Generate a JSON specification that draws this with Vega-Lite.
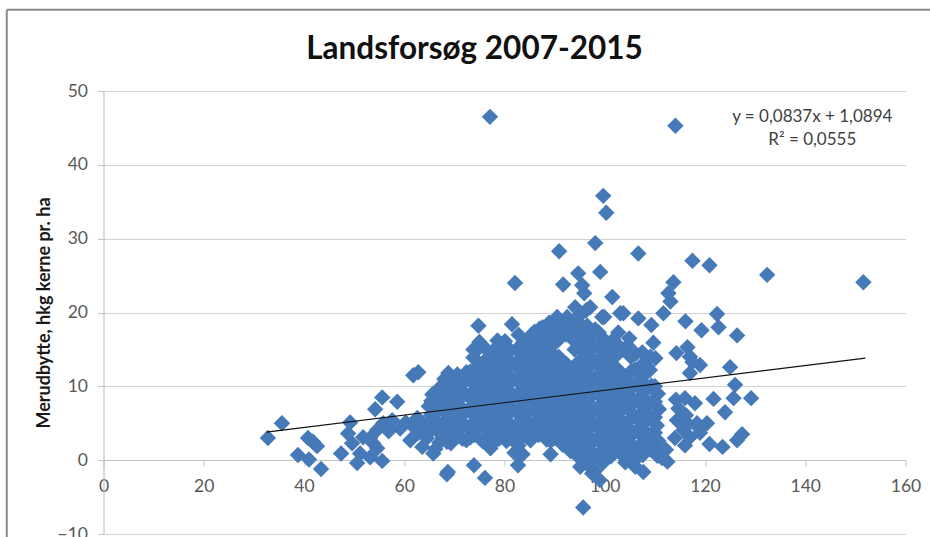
{"$schema":"https://vega.github.io/schema/vega-lite/v6.json","width":802,"height":443,"autosize":{"type":"none"},"padding":{"left":103.5,"top":91,"right":24.5,"bottom":3},"background":"white","config":{"view":{"stroke":null},"font":"Lato"},"title":{"text":"Landsforsøg 2007-2015","font":"Lato","fontSize":31.5,"fontWeight":"bold","color":"#111111","anchor":"middle","dx":-30,"offset":-57},"datasets":{"pts":[
{"x":77.1,"y":46.5},{"x":114.1,"y":45.3},{"x":99.7,"y":35.8},{"x":100.3,"y":33.5},{"x":98.1,"y":29.4},{"x":106.7,"y":28.0},{"x":90.9,"y":28.3},{"x":99.1,"y":25.5},{"x":117.5,"y":27},{"x":120.9,"y":26.4},{"x":132.4,"y":25.1},{"x":151.6,"y":24.1},{"x":94.7,"y":25.3},{"x":91.7,"y":23.8},{"x":82.1,"y":24},{"x":95.5,"y":23.7},{"x":95.9,"y":22.6},{"x":101.5,"y":22.1},{"x":94.1,"y":20.7},{"x":97.1,"y":20.7},{"x":96.3,"y":20.3},{"x":99.5,"y":19.4},{"x":103.1,"y":19.9},{"x":90.5,"y":19.4},{"x":92.5,"y":19.4},{"x":81.5,"y":18.4},{"x":74.8,"y":18.2},
{"x":113.7,"y":24.1},{"x":112.7,"y":22.6},{"x":113.1,"y":21.5},{"x":111.7,"y":19.9},{"x":103.7,"y":19.9},{"x":99.9,"y":19.4},{"x":106.7,"y":19.2},{"x":109.3,"y":18.3},{"x":116.1,"y":18.8},{"x":119.3,"y":17.6},{"x":122.4,"y":19.8},{"x":122.7,"y":18},{"x":126.4,"y":16.9},{"x":109.7,"y":15.9},{"x":114.3,"y":14.5},{"x":116.5,"y":15.3},{"x":117,"y":14},{"x":119,"y":12.9},{"x":117,"y":11.8},{"x":125,"y":12.6},{"x":102.7,"y":17.3},{"x":104.9,"y":16.5},{"x":101.7,"y":16.3},{"x":107.5,"y":14.6},{"x":110.1,"y":13.8},{"x":107.7,"y":13.1},{"x":109,"y":12.2},{"x":117.5,"y":13.3},
{"x":126,"y":10.2},{"x":121.7,"y":8.3},{"x":125.7,"y":8.4},{"x":129.2,"y":8.4},{"x":124,"y":6.5},{"x":127.4,"y":3.5},{"x":126.4,"y":2.7},{"x":123.5,"y":1.8},{"x":120.9,"y":2.2},{"x":116,"y":2},{"x":114,"y":3},{"x":114.4,"y":5.4},{"x":116,"y":8.4},{"x":118,"y":7.7},{"x":114.7,"y":7},{"x":120.4,"y":5},{"x":118.4,"y":5},{"x":119,"y":3.7},{"x":117,"y":3.1},{"x":115.7,"y":4.1},{"x":116.2,"y":6.1},{"x":114.2,"y":8.2},{"x":118.9,"y":4.3},{"x":116.6,"y":4.9},
{"x":112.5,"y":-0.2},{"x":107.7,"y":-1.6},{"x":106.1,"y":-0.9},{"x":95.7,"y":-6.4},{"x":104.1,"y":-0.3},{"x":99,"y":-2.7},{"x":97.5,"y":-1.8},{"x":95.1,"y":-0.9},{"x":112.2,"y":1.4},{"x":111.4,"y":0.3},
{"x":68.7,"y":-1.6},{"x":68.5,"y":-1.9},{"x":73.9,"y":-0.7},{"x":76.1,"y":-2.4},{"x":82.7,"y":-0.7},{"x":65.8,"y":0.9},{"x":89.2,"y":0.8},{"x":61.8,"y":11.5},{"x":62.8,"y":11.9},{"x":68.8,"y":11.8},
{"x":32.8,"y":3},{"x":35.6,"y":5},{"x":40.8,"y":3},{"x":42.6,"y":1.9},{"x":41.8,"y":2.5},{"x":38.8,"y":0.7},{"x":41,"y":0.1},{"x":43.4,"y":-1.2},{"x":47.4,"y":0.9},{"x":50.6,"y":-0.4},{"x":55.6,"y":-0.1},{"x":49.2,"y":5.1},{"x":48.8,"y":3.6},{"x":49.6,"y":2.3},{"x":51.8,"y":3.1},{"x":51.2,"y":0.9},{"x":53.2,"y":0.4},{"x":53.8,"y":2.3},{"x":54.6,"y":1.6},{"x":53.2,"y":3},{"x":54.2,"y":6.9},{"x":55.6,"y":8.5},{"x":58.6,"y":7.9},{"x":57.6,"y":5.4},{"x":55.8,"y":5},{"x":54.6,"y":4.1},{"x":59.2,"y":4.3},{"x":61.6,"y":4.7},{"x":61.2,"y":2.7},{"x":63.6,"y":1.8},{"x":62.8,"y":3.7},{"x":63.8,"y":5},{"x":62.6,"y":5.7},{"x":60.3,"y":5.1},{"x":56.9,"y":3.9},
{"x":64.5,"y":3},{"x":64.7,"y":5.1},{"x":64.9,"y":7.3},{"x":65.6,"y":8.9},
{"x":66.2,"y":1.5},{"x":66.3,"y":4.2},{"x":66.1,"y":6.3},{"x":66.4,"y":8.4},{"x":67.2,"y":9.9},
{"x":67.7,"y":3.1},{"x":67.9,"y":5.2},{"x":67.6,"y":7.4},{"x":68.1,"y":9.5},{"x":68,"y":11},
{"x":69.3,"y":2.3},{"x":69.5,"y":4.3},{"x":69.2,"y":6.5},{"x":69.6,"y":8.6},{"x":69.4,"y":10.7},
{"x":70.8,"y":3.3},{"x":71,"y":5.4},{"x":70.7,"y":7.6},{"x":71.1,"y":9.7},{"x":70.6,"y":11.6},
{"x":72.4,"y":2.7},{"x":72.6,"y":4.5},{"x":72.3,"y":6.6},{"x":72.7,"y":8.7},{"x":72.2,"y":10.8},{"x":72.4,"y":11.9},
{"x":74,"y":3.4},{"x":74.2,"y":5.3},{"x":73.9,"y":7.5},{"x":74.3,"y":9.6},{"x":74.1,"y":11.8},{"x":73.8,"y":13.9},{"x":73.8,"y":15},
{"x":75.6,"y":2.6},{"x":75.8,"y":4.6},{"x":75.5,"y":6.4},{"x":75.9,"y":8.5},{"x":75.7,"y":10.7},{"x":75.4,"y":12.8},{"x":74.9,"y":15.2},{"x":75,"y":16},
{"x":77.2,"y":1.6},{"x":77.4,"y":3.5},{"x":77.1,"y":5.5},{"x":77.5,"y":7.7},{"x":77.3,"y":9.8},{"x":77,"y":12},{"x":77.2,"y":14},
{"x":78.9,"y":2.9},{"x":79.1,"y":4.4},{"x":78.8,"y":6.6},{"x":79.2,"y":8.8},{"x":79,"y":10.9},{"x":78.7,"y":13.1},{"x":78.6,"y":16.2},
{"x":80.4,"y":2.6},{"x":80.6,"y":3.3},{"x":80.3,"y":5.4},{"x":80.7,"y":7.5},{"x":80.5,"y":9.6},{"x":80.2,"y":11.8},{"x":80.4,"y":13.9},{"x":80.1,"y":16.1},
{"x":82,"y":1},{"x":82.2,"y":2.4},{"x":81.9,"y":4.5},{"x":82.3,"y":6.6},{"x":82.1,"y":8.7},{"x":81.8,"y":10.9},{"x":82,"y":13},{"x":82.4,"y":15},
{"x":83.6,"y":0.8},{"x":83.8,"y":3.5},{"x":83.5,"y":5.6},{"x":83.9,"y":7.7},{"x":83.7,"y":9.8},{"x":83.4,"y":12},{"x":83.6,"y":14.1},{"x":83.8,"y":16},
{"x":85.2,"y":2.7},{"x":85.4,"y":4.6},{"x":85.1,"y":6.8},{"x":85.5,"y":8.9},{"x":85.3,"y":11},{"x":85,"y":13.1},{"x":85.2,"y":15.2},{"x":85.4,"y":17},
{"x":86.8,"y":3.4},{"x":87,"y":5.5},{"x":86.7,"y":7.7},{"x":87.1,"y":9.8},{"x":86.9,"y":12},{"x":86.6,"y":14.1},{"x":86.8,"y":16.3},{"x":87,"y":17.8},
{"x":88.4,"y":2.8},{"x":88.6,"y":4.5},{"x":88.3,"y":6.7},{"x":88.7,"y":8.9},{"x":88.5,"y":11},{"x":88.2,"y":13.2},{"x":88.4,"y":15.3},{"x":88.6,"y":17.4},{"x":88.9,"y":18.6},
{"x":90,"y":3},{"x":90.2,"y":5.6},{"x":89.9,"y":7.8},{"x":90.3,"y":10},{"x":90.1,"y":12},{"x":89.8,"y":14.2},{"x":90,"y":16.4},{"x":90.2,"y":18.2},
{"x":91.6,"y":2.1},{"x":91.8,"y":4.6},{"x":91.5,"y":6.8},{"x":91.9,"y":8.9},{"x":91.7,"y":11},{"x":91.4,"y":13.1},{"x":91.8,"y":17.5},
{"x":93.2,"y":1.2},{"x":93.4,"y":3.4},{"x":93.1,"y":5.7},{"x":93.5,"y":7.9},{"x":93.3,"y":10},{"x":93,"y":12.2},{"x":93.4,"y":16.5},{"x":93.1,"y":18.6},
{"x":94.8,"y":0.4},{"x":95,"y":2.4},{"x":94.7,"y":4.6},{"x":95.1,"y":6.8},{"x":94.9,"y":8.9},{"x":94.6,"y":11.1},{"x":94.8,"y":13.2},{"x":95,"y":15.4},{"x":94.7,"y":17.6},{"x":95,"y":19.6},
{"x":96.4,"y":-0.5},{"x":96.6,"y":1.5},{"x":96.3,"y":3.6},{"x":96.7,"y":5.7},{"x":96.5,"y":7.9},{"x":96.2,"y":10},{"x":96.4,"y":12.2},{"x":96.6,"y":14.3},{"x":96.3,"y":16.4},{"x":96.5,"y":18.2},
{"x":98,"y":-1.5},{"x":98.2,"y":0.6},{"x":97.9,"y":2.6},{"x":98.3,"y":4.7},{"x":98.1,"y":6.8},{"x":97.8,"y":9},{"x":98,"y":11.1},{"x":98.2,"y":13.3},{"x":97.9,"y":15.5},{"x":98.1,"y":17.7},
{"x":99.6,"y":-0.4},{"x":99.8,"y":1.5},{"x":99.5,"y":3.7},{"x":99.9,"y":5.8},{"x":99.7,"y":7.9},{"x":99.4,"y":10.1},{"x":99.6,"y":12.2},{"x":99.8,"y":14.4},{"x":99.5,"y":16.6},
{"x":101.2,"y":0.5},{"x":101.4,"y":2.6},{"x":101.1,"y":4.7},{"x":101.5,"y":6.9},{"x":101.3,"y":9},{"x":101,"y":11.2},{"x":101.2,"y":13.3},{"x":101.4,"y":15.5},
{"x":102.8,"y":1.6},{"x":103,"y":3.7},{"x":102.7,"y":5.8},{"x":103.1,"y":8},{"x":102.9,"y":10.1},{"x":102.6,"y":12.3},{"x":102.8,"y":14.5},
{"x":104.4,"y":0.4},{"x":104.6,"y":2.6},{"x":104.3,"y":4.7},{"x":104.7,"y":6.9},{"x":104.5,"y":9},{"x":104.2,"y":11.2},{"x":104.6,"y":15.5},
{"x":106,"y":0},{"x":106.2,"y":1.6},{"x":105.9,"y":3.7},{"x":106.3,"y":5.8},{"x":106.1,"y":8},{"x":105.8,"y":10.1},{"x":106,"y":12.3},{"x":106.2,"y":14.4},
{"x":107.6,"y":0.7},{"x":107.8,"y":2.6},{"x":107.5,"y":4.8},{"x":107.9,"y":6.9},{"x":107.7,"y":9.1},{"x":107.4,"y":11.2},
{"x":109.2,"y":1.4},{"x":109.4,"y":3.5},{"x":109.1,"y":5.8},{"x":109.5,"y":8},{"x":109.3,"y":10.1},{"x":109.1,"y":14},
{"x":110.5,"y":0.6},{"x":110.7,"y":2.6},{"x":110.4,"y":4.7},{"x":110.8,"y":6.9},{"x":110.6,"y":9},
{"x":65.4,"y":4.1},{"x":65.4,"y":6.2},{"x":65.4,"y":8},
{"x":67,"y":2.4},{"x":67,"y":4.8},{"x":67,"y":6.9},{"x":67,"y":8.9},
{"x":68.5,"y":2.5},{"x":68.5,"y":4.2},{"x":68.5,"y":6.3},{"x":68.5,"y":8.4},{"x":68.5,"y":10.3},
{"x":70.1,"y":3.6},{"x":70.1,"y":5.5},{"x":70.1,"y":7.5},{"x":70.1,"y":9.6},{"x":70.1,"y":11.2},
{"x":71.6,"y":2.9},{"x":71.6,"y":4.6},{"x":71.6,"y":6.6},{"x":71.6,"y":8.7},{"x":71.6,"y":10.7},
{"x":73.2,"y":3.1},{"x":73.2,"y":4.4},{"x":73.2,"y":6.5},{"x":73.2,"y":8.6},{"x":73.2,"y":10.7},{"x":73.2,"y":12},
{"x":74.8,"y":4.4},{"x":74.8,"y":6.5},{"x":74.8,"y":8.6},{"x":74.8,"y":10.7},{"x":74.8,"y":12.8},
{"x":76.4,"y":3.1},{"x":76.4,"y":5.3},{"x":76.4,"y":7.4},{"x":76.4,"y":9.5},{"x":76.4,"y":11.6},{"x":76.4,"y":13.7},{"x":76.4,"y":15},
{"x":78,"y":2.5},{"x":78,"y":4.5},{"x":78,"y":6.6},{"x":78,"y":8.7},{"x":78,"y":10.8},{"x":78,"y":12.9},{"x":78,"y":15},
{"x":79.6,"y":3.7},{"x":79.6,"y":5.5},{"x":79.6,"y":7.6},{"x":79.6,"y":9.7},{"x":79.6,"y":11.8},{"x":79.6,"y":13.9},{"x":79.6,"y":15.5},
{"x":81.2,"y":3.2},{"x":81.2,"y":4.4},{"x":81.2,"y":6.5},{"x":81.2,"y":8.6},{"x":81.2,"y":10.7},{"x":81.2,"y":12.8},{"x":81.2,"y":14.9},
{"x":82.8,"y":2},{"x":82.8,"y":4.4},{"x":82.8,"y":6.5},{"x":82.8,"y":8.6},{"x":82.8,"y":10.7},{"x":82.8,"y":12.9},{"x":82.8,"y":15},{"x":82.8,"y":17},
{"x":84.4,"y":3.2},{"x":84.4,"y":5.5},{"x":84.4,"y":7.6},{"x":84.4,"y":9.8},{"x":84.4,"y":11.9},{"x":84.4,"y":14},{"x":84.4,"y":16.1},
{"x":86,"y":3.3},{"x":86,"y":4.6},{"x":86,"y":6.7},{"x":86,"y":8.8},{"x":86,"y":10.9},{"x":86,"y":13},{"x":86,"y":15.2},{"x":86,"y":17.4},
{"x":87.6,"y":3.6},{"x":87.6,"y":5.7},{"x":87.6,"y":7.8},{"x":87.6,"y":9.9},{"x":87.6,"y":12},{"x":87.6,"y":14.2},{"x":87.6,"y":16.3},{"x":87.6,"y":18},
{"x":89.2,"y":2.6},{"x":89.2,"y":4.6},{"x":89.2,"y":6.7},{"x":89.2,"y":8.9},{"x":89.2,"y":11},{"x":89.2,"y":13},{"x":89.2,"y":15.3},{"x":89.2,"y":17.3},
{"x":90.8,"y":3.5},{"x":90.8,"y":5.6},{"x":90.8,"y":7.7},{"x":90.8,"y":9.8},{"x":90.8,"y":12},{"x":90.8,"y":14},{"x":90.8,"y":16.3},{"x":90.8,"y":18.4},
{"x":92.4,"y":2.9},{"x":92.4,"y":4.9},{"x":92.4,"y":6.9},{"x":92.4,"y":9},{"x":92.4,"y":11.1},{"x":92.4,"y":13},{"x":92.4,"y":17},
{"x":94,"y":2},{"x":94,"y":4.4},{"x":94,"y":6.5},{"x":94,"y":8.6},{"x":94,"y":10.7},{"x":94,"y":12.8},{"x":94,"y":15},{"x":94,"y":17},{"x":94,"y":19},
{"x":95.6,"y":1.2},{"x":95.6,"y":3.3},{"x":95.6,"y":5.4},{"x":95.6,"y":7.5},{"x":95.6,"y":9.6},{"x":95.6,"y":11.7},{"x":95.6,"y":13.8},{"x":95.6,"y":16},{"x":95.6,"y":18.1},
{"x":97.2,"y":0.3},{"x":97.2,"y":2.4},{"x":97.2,"y":4.5},{"x":97.2,"y":6.6},{"x":97.2,"y":8.7},{"x":97.2,"y":10.8},{"x":97.2,"y":12.9},{"x":97.2,"y":15},{"x":97.2,"y":17},
{"x":98.8,"y":0.4},{"x":98.8,"y":2.6},{"x":98.8,"y":4.7},{"x":98.8,"y":6.8},{"x":98.8,"y":8.9},{"x":98.8,"y":11},{"x":98.8,"y":13.1},{"x":98.8,"y":15.2},{"x":98.8,"y":17.3},
{"x":100.4,"y":0.6},{"x":100.4,"y":2.7},{"x":100.4,"y":4.8},{"x":100.4,"y":6.9},{"x":100.4,"y":9},{"x":100.4,"y":11.1},{"x":100.4,"y":13.2},{"x":100.4,"y":15.3},
{"x":102,"y":1.5},{"x":102,"y":3.6},{"x":102,"y":5.7},{"x":102,"y":7.8},{"x":102,"y":9.9},{"x":102,"y":12},{"x":102,"y":14.1},{"x":102,"y":16},
{"x":103.6,"y":0.6},{"x":103.6,"y":2.7},{"x":103.6,"y":4.8},{"x":103.6,"y":6.9},{"x":103.6,"y":9},{"x":103.6,"y":11.1},{"x":103.6,"y":15},
{"x":105.2,"y":1.2},{"x":105.2,"y":3.5},{"x":105.2,"y":5.6},{"x":105.2,"y":7.7},{"x":105.2,"y":9.8},{"x":105.2,"y":12},{"x":105.2,"y":14},
{"x":106.8,"y":1.3},{"x":106.8,"y":3.7},{"x":106.8,"y":5.8},{"x":106.8,"y":7.9},{"x":106.8,"y":10},{"x":106.8,"y":12.1},
{"x":108.4,"y":1.6},{"x":108.4,"y":3.7},{"x":108.4,"y":5.8},{"x":108.4,"y":7.9},{"x":108.4,"y":10},{"x":108.4,"y":12.7},
{"x":110,"y":1.6},{"x":110,"y":3.7},{"x":110,"y":5.8},{"x":110,"y":7.9},{"x":110,"y":10}
],"frame":[{"left":-19.3,"right":170,"bottom":-12,"top":61}]},"layer":[
{"data":{"name":"frame"},"mark":{"type":"rule","color":"#8a8a8a","strokeWidth":2,"clip":false},"encoding":{"x":{"field":"left","type":"quantitative"},"y":{"field":"bottom","type":"quantitative"},"y2":{"field":"top"}}},
{"data":{"name":"frame"},"mark":{"type":"rule","color":"#8a8a8a","strokeWidth":2,"clip":false},"encoding":{"y":{"field":"top","type":"quantitative"},"x":{"field":"left","type":"quantitative"},"x2":{"field":"right"}}},
{"data":{"name":"pts"},"mark":{"type":"point","shape":"diamond","filled":true,"color":"#4679b8","opacity":1,"size":270,"strokeWidth":0},"encoding":{
"x":{"field":"x","type":"quantitative","scale":{"domain":[0,160],"nice":false,"zero":false},"axis":{"title":null,"values":[0,20,40,60,80,100,120,140,160],"grid":false,"offset":-74,"domain":true,"domainColor":"#c4c4c4","domainWidth":1,"tickColor":"#c4c4c4","tickSize":6,"labelFont":"Lato","labelFontSize":17.5,"labelColor":"#595959","labelPadding":11,"labelFlush":false,"labelOverlap":false}},
"y":{"field":"y","type":"quantitative","scale":{"domain":[-10,50],"nice":false,"zero":false},"axis":{"title":"Merudbytte, hkg kerne pr. ha","values":[-10,0,10,20,30,40,50],"grid":true,"gridColor":"#d2d2d2","gridWidth":1,"domain":true,"domainColor":"#b8b8b8","domainWidth":1,"tickColor":"#c4c4c4","tickSize":6,"labelFont":"Lato","labelFontSize":17.5,"labelColor":"#595959","labelPadding":10,"labelFlush":false,"labelOverlap":false,"titleFont":"Lato","titleFontSize":18,"titleFontWeight":"bold","titleColor":"#1a1a1a","titlePadding":4}}}},
{"data":{"values":[{"x":32.5,"y":3.81},{"x":152,"y":13.81}]},"mark":{"type":"line","color":"#111111","strokeWidth":1.2},"encoding":{"x":{"field":"x","type":"quantitative"},"y":{"field":"y","type":"quantitative"}}},
{"data":{"values":[{"x":141.4,"y":46.5,"t":"y = 0,0837x + 1,0894"},{"x":141.4,"y":43.4,"t":"R² = 0,0555"}]},"mark":{"type":"text","font":"Lato","fontSize":17,"color":"#404040","align":"center","baseline":"middle"},"encoding":{"x":{"field":"x","type":"quantitative"},"y":{"field":"y","type":"quantitative"},"text":{"field":"t"}}}
]}
